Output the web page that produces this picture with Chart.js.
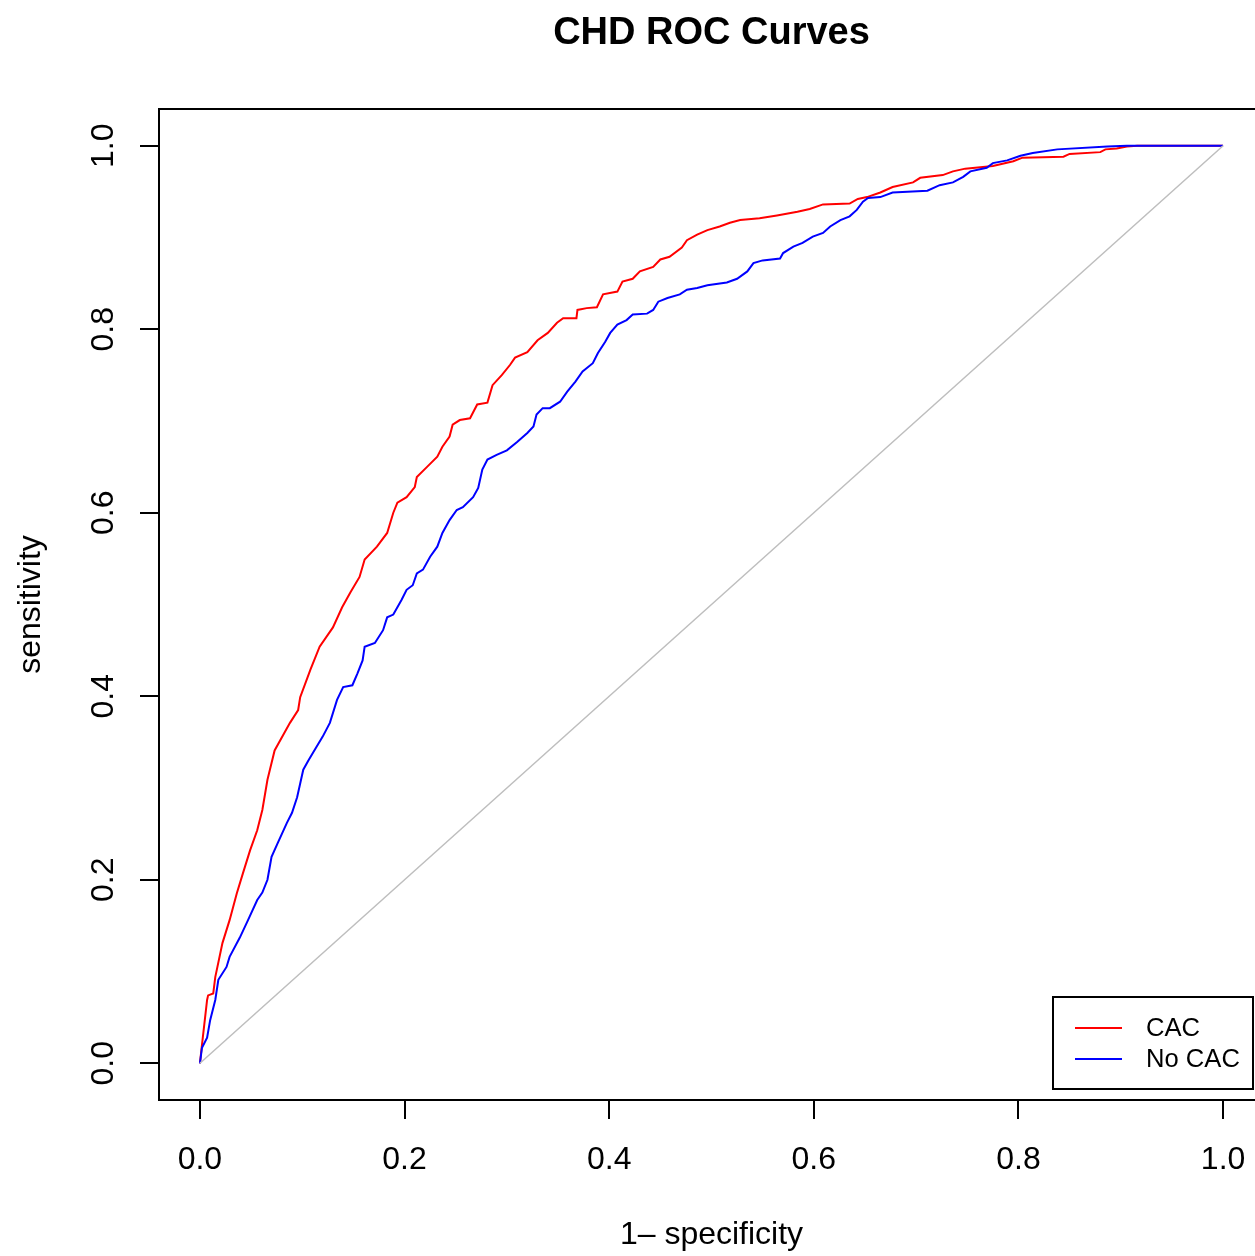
<!DOCTYPE html>
<html>
<head>
<meta charset="utf-8">
<script src="https://cdn.jsdelivr.net/npm/chart.js@4.4.1/dist/chart.umd.min.js"></script>
<style>
  html, body { margin: 0; padding: 0; background: #fff; overflow: hidden; }
  canvas { display: block; }
</style>
</head>
<body>
<canvas id="rocChart" width="1280" height="1256"></canvas>
<script>
// ROC data (1 - specificity, sensitivity)
const cacFpr = [0, 0.002, 0.007, 0.008, 0.013, 0.015, 0.022, 0.029, 0.036, 0.042, 0.049, 0.056, 0.061, 0.066, 0.073, 0.088, 0.096, 0.098, 0.108, 0.117, 0.130, 0.139, 0.147, 0.156, 0.161, 0.173, 0.183, 0.189, 0.193, 0.202, 0.210, 0.212, 0.222, 0.232, 0.237, 0.244, 0.247, 0.254, 0.264, 0.271, 0.281, 0.286, 0.295, 0.303, 0.308, 0.320, 0.330, 0.340, 0.349, 0.355, 0.368, 0.369, 0.378, 0.388, 0.394, 0.408, 0.413, 0.423, 0.430, 0.443, 0.450, 0.459, 0.471, 0.476, 0.486, 0.496, 0.508, 0.518, 0.528, 0.547, 0.564, 0.584, 0.596, 0.609, 0.635, 0.643, 0.652, 0.665, 0.677, 0.697, 0.704, 0.726, 0.736, 0.748, 0.775, 0.795, 0.804, 0.844, 0.850, 0.880, 0.885, 0.896, 0.906, 0.916, 1];
const cacTpr = [0, 0.020, 0.069, 0.074, 0.076, 0.094, 0.131, 0.156, 0.185, 0.207, 0.232, 0.254, 0.276, 0.309, 0.341, 0.371, 0.385, 0.399, 0.429, 0.454, 0.475, 0.497, 0.513, 0.530, 0.549, 0.563, 0.578, 0.600, 0.611, 0.617, 0.628, 0.639, 0.650, 0.661, 0.672, 0.683, 0.696, 0.701, 0.703, 0.718, 0.720, 0.739, 0.750, 0.761, 0.769, 0.775, 0.788, 0.796, 0.807, 0.812, 0.812, 0.821, 0.823, 0.824, 0.838, 0.841, 0.852, 0.855, 0.863, 0.868, 0.876, 0.879, 0.889, 0.897, 0.903, 0.908, 0.912, 0.916, 0.919, 0.921, 0.924, 0.928, 0.931, 0.936, 0.937, 0.942, 0.944, 0.949, 0.955, 0.960, 0.965, 0.968, 0.972, 0.975, 0.978, 0.983, 0.987, 0.988, 0.991, 0.993, 0.996, 0.997, 0.999, 1, 1];

const noCacFpr = [0, 0.002, 0.007, 0.010, 0.015, 0.018, 0.026, 0.029, 0.039, 0.047, 0.056, 0.061, 0.066, 0.070, 0.076, 0.085, 0.090, 0.095, 0.098, 0.101, 0.106, 0.114, 0.120, 0.127, 0.134, 0.140, 0.149, 0.154, 0.159, 0.161, 0.171, 0.179, 0.183, 0.189, 0.193, 0.197, 0.202, 0.208, 0.212, 0.218, 0.225, 0.232, 0.237, 0.244, 0.251, 0.257, 0.267, 0.272, 0.276, 0.281, 0.290, 0.300, 0.310, 0.320, 0.326, 0.329, 0.335, 0.342, 0.352, 0.359, 0.367, 0.374, 0.384, 0.389, 0.396, 0.401, 0.408, 0.417, 0.423, 0.437, 0.443, 0.448, 0.457, 0.469, 0.476, 0.486, 0.496, 0.515, 0.525, 0.535, 0.541, 0.550, 0.567, 0.570, 0.580, 0.589, 0.599, 0.609, 0.616, 0.626, 0.635, 0.642, 0.648, 0.653, 0.665, 0.677, 0.711, 0.723, 0.736, 0.746, 0.753, 0.769, 0.775, 0.789, 0.802, 0.814, 0.838, 0.887, 0.906, 1];
const noCacTpr = [0, 0.017, 0.028, 0.047, 0.069, 0.091, 0.105, 0.116, 0.137, 0.156, 0.178, 0.186, 0.200, 0.225, 0.240, 0.262, 0.273, 0.290, 0.305, 0.320, 0.330, 0.345, 0.356, 0.371, 0.396, 0.410, 0.412, 0.425, 0.439, 0.454, 0.458, 0.472, 0.486, 0.489, 0.497, 0.505, 0.516, 0.521, 0.534, 0.538, 0.552, 0.563, 0.578, 0.592, 0.603, 0.606, 0.617, 0.627, 0.647, 0.658, 0.663, 0.668, 0.677, 0.687, 0.694, 0.707, 0.714, 0.714, 0.721, 0.732, 0.743, 0.754, 0.763, 0.774, 0.786, 0.796, 0.805, 0.810, 0.816, 0.817, 0.821, 0.830, 0.834, 0.838, 0.843, 0.845, 0.848, 0.851, 0.855, 0.863, 0.872, 0.875, 0.877, 0.883, 0.890, 0.894, 0.901, 0.905, 0.912, 0.919, 0.923, 0.930, 0.939, 0.943, 0.944, 0.949, 0.951, 0.957, 0.960, 0.966, 0.972, 0.976, 0.981, 0.984, 0.989, 0.992, 0.996, 0.999, 1, 1];

const diagX = [0, 1];
const diagY = [0, 1];

const tickValues = [0, 0.2, 0.4, 0.6, 0.8, 1.0];
const seriesNames = ["CAC", "No CAC"];
const seriesColors = ["#ff0000", "#0000ff"];

const FONT = "'Liberation Sans', Arial, Helvetica, sans-serif";

function toPoints(xs, ys) {
  return xs.map((x, i) => ({ x: x, y: ys[i] }));
}

// R-style decorations: title, axis labels, box, tick labels, legend
const rDecor = {
  id: "rDecor",
  afterDraw(chart) {
    const ctx = chart.ctx;
    const a = chart.chartArea;
    const xs = chart.scales.x;
    const ys = chart.scales.y;
    const midX = (a.left + a.right) / 2;
    ctx.save();
    ctx.fillStyle = "#000";
    ctx.strokeStyle = "#000";

    // box
    ctx.lineWidth = 2;
    ctx.strokeRect(a.left, a.top, a.right - a.left, a.bottom - a.top);

    // title
    ctx.font = "bold 38px " + FONT;
    ctx.textAlign = "center";
    ctx.textBaseline = "alphabetic";
    ctx.fillText("CHD ROC Curves", midX, 44);

    // x tick labels
    ctx.font = "32px " + FONT;
    tickValues.forEach(v => {
      ctx.fillText(v.toFixed(1), xs.getPixelForValue(v), 1169);
    });

    // x title
    ctx.fillText("1\u2013 specificity", midX, 1244);

    // y tick labels (rotated)
    tickValues.forEach(v => {
      ctx.save();
      ctx.translate(113, ys.getPixelForValue(v));
      ctx.rotate(-Math.PI / 2);
      ctx.fillText(v.toFixed(1), 0, 0);
      ctx.restore();
    });

    // y title
    ctx.save();
    ctx.translate(40, (a.top + a.bottom) / 2);
    ctx.rotate(-Math.PI / 2);
    ctx.fillText("sensitivity", 0, 0);
    ctx.restore();

    // legend
    ctx.lineWidth = 2;
    ctx.strokeRect(1053, 997, 200, 92);
    ctx.font = "25.6px " + FONT;
    ctx.textAlign = "left";
    ctx.textBaseline = "middle";
    seriesNames.forEach((name, i) => {
      const y = 1028 + i * 31;
      ctx.strokeStyle = seriesColors[i];
      ctx.beginPath();
      ctx.moveTo(1075, y);
      ctx.lineTo(1122, y);
      ctx.stroke();
      ctx.fillText(name, 1146, y + 1);
    });
    ctx.restore();
  }
};

const ctx = document.getElementById("rocChart");
const rocChart = new Chart(ctx, {
  type: "line",
  data: {
    datasets: [
      {
        label: "diag",
        data: toPoints(diagX, diagY),
        borderColor: "#bebebe",
        borderWidth: 1.5,
        pointRadius: 0,
      },
      {
        label: seriesNames[1],
        data: toPoints(noCacFpr, noCacTpr),
        borderColor: seriesColors[1],
        borderWidth: 2,
        pointRadius: 0,
      },
      {
        label: seriesNames[0],
        data: toPoints(cacFpr, cacTpr),
        borderColor: seriesColors[0],
        borderWidth: 2,
        pointRadius: 0,
      },
    ],
  },
  plugins: [rDecor],
  options: {
    responsive: false,
    animation: false,
    devicePixelRatio: 1,
    layout: { padding: { top: 109, right: 16, left: 0, bottom: 0 } },
    plugins: {
      legend: { display: false },
      tooltip: { enabled: false },
    },
    scales: {
      x: {
        type: "linear",
        min: -0.04,
        max: 1.04,
        afterBuildTicks: (s) => { s.ticks = tickValues.map(v => ({ value: v })); },
        afterFit: (s) => { s.height = 156; },
        ticks: { display: false },
        border: { display: false },
        grid: {
          drawOnChartArea: false,
          drawTicks: true,
          tickLength: 19,
          color: "#000",
          lineWidth: 2,
        },
      },
      y: {
        type: "linear",
        min: -0.04,
        max: 1.04,
        afterBuildTicks: (s) => { s.ticks = tickValues.map(v => ({ value: v })); },
        afterFit: (s) => { s.width = 159; },
        ticks: { display: false },
        border: { display: false },
        grid: {
          drawOnChartArea: false,
          drawTicks: true,
          tickLength: 19,
          color: "#000",
          lineWidth: 2,
        },
      },
    },
  },
});
</script>
</body>
</html>
